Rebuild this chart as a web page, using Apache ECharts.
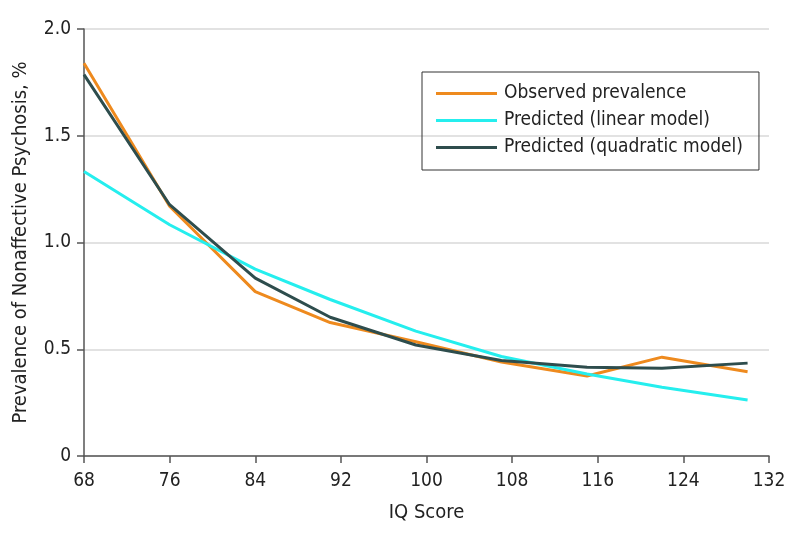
<!DOCTYPE html>
<html><head><meta charset="utf-8">
<script src="https://cdn.jsdelivr.net/npm/echarts@6/dist/echarts.min.js"></script>
<style>html,body{margin:0;padding:0;background:#fff}#c{width:794px;height:542px}</style>
</head><body><div id="c"></div>
<script>
const iq = [68, 76, 84, 91, 99, 107, 115, 122, 130];
const observed = [1.84, 1.17, 0.77, 0.625, 0.535, 0.44, 0.375, 0.463, 0.395];
const linearModel = [1.333, 1.083, 0.875, 0.733, 0.585, 0.466, 0.384, 0.322, 0.262];
const quadraticModel = [1.786, 1.177, 0.833, 0.65, 0.52, 0.447, 0.416, 0.411, 0.435];
const seriesNames = ['Observed prevalence', 'Predicted (linear model)', 'Predicted (quadratic model)'];
const FONT = "'DejaVu Sans Condensed', 'DejaVu Sans', sans-serif";
const pair = arr => iq.map((x, i) => [x, arr[i]]);
const chart = echarts.init(document.getElementById('c'));
const mk = (name, data, color) => ({
  name, type: 'line', data: pair(data), symbol: 'none', smooth: false,
  lineStyle: { color, width: 3 }, itemStyle: { color }
});
chart.setOption({
  animation: false,
  textStyle: { fontFamily: FONT },
  grid: { left: 84, right: 25, top: 29, bottom: 86, containLabel: false },
  legend: {
    orient: 'vertical', left: 422, top: 72,
    data: seriesNames, icon: 'rect', itemWidth: 61, itemHeight: 3, itemGap: 8,
    borderColor: '#333', borderWidth: 1, padding: [12, 16, 13, 14],
    textStyle: { fontFamily: FONT, fontSize: 19, color: '#222', padding: [0, 0, 0, 2] }
  },
  xAxis: {
    type: 'value', min: 68, max: 132, interval: 8,
    name: 'IQ Score', nameLocation: 'middle', nameGap: 47,
    nameTextStyle: { fontFamily: FONT, fontSize: 20, color: '#222' },
    axisLine: { show: true, lineStyle: { color: '#555', width: 1.5 } },
    axisTick: { show: true, length: 7, lineStyle: { color: '#555', width: 1.5 } },
    axisLabel: { fontFamily: FONT, fontSize: 19, color: '#222', margin: 16 },
    splitLine: { show: false }
  },
  yAxis: {
    type: 'value', min: 0, max: 2, interval: 0.5,
    name: 'Prevalence of Nonaffective Psychosis, %', nameLocation: 'middle', nameGap: 53,
    nameTextStyle: { fontFamily: FONT, fontSize: 20, color: '#222' },
    axisLine: { show: true, lineStyle: { color: '#555', width: 1.5 } },
    axisTick: { show: true, length: 7, lineStyle: { color: '#555', width: 1.5 } },
    axisLabel: { fontFamily: FONT, fontSize: 19, color: '#222', margin: 13,
      formatter: v => v === 0 ? '0' : v.toFixed(1) },
    splitLine: { show: true, lineStyle: { color: '#d9d9d9', width: 1.5 } }
  },
  series: [
    mk(seriesNames[0], observed, '#EE8A1E'),
    mk(seriesNames[1], linearModel, '#25EEEE'),
    mk(seriesNames[2], quadraticModel, '#2E4D4D')
  ]
});
</script></body></html>
